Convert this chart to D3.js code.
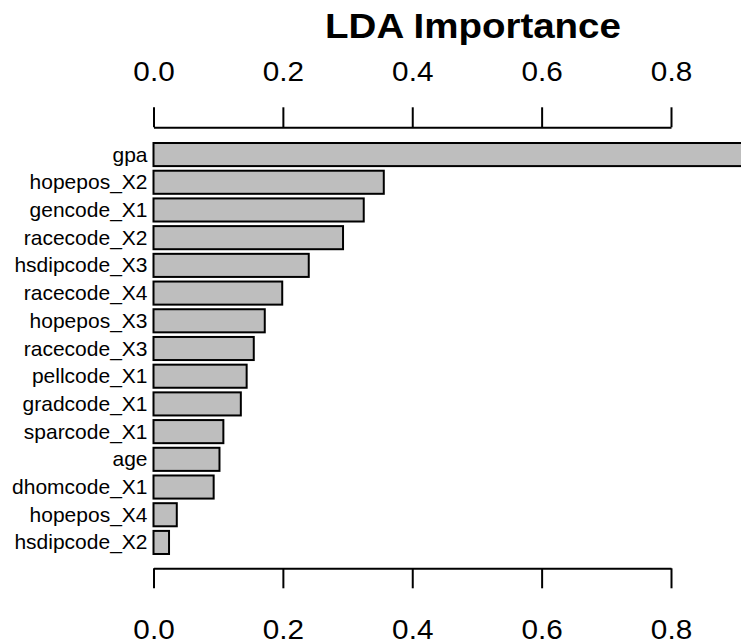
<!DOCTYPE html>
<html>
<head>
<meta charset="utf-8">
<script src="https://cdn.jsdelivr.net/npm/d3@7"></script>
<style>
    html, body { margin: 0; padding: 0; background: #fff; }
    svg { display: block; font-family: 'Liberation Sans', Arial, sans-serif; }
</style>
</head>
<body>
<svg id="chart"></svg>
<script>
const variableNames = [
    'gpa', 'hopepos_X2', 'gencode_X1', 'racecode_X2', 'hsdipcode_X3',
    'racecode_X4', 'hopepos_X3', 'racecode_X3', 'pellcode_X1', 'gradcode_X1',
    'sparcode_X1', 'age', 'dhomcode_X1', 'hopepos_X4', 'hsdipcode_X2'
];
const importanceValues = [
    0.95, 0.356, 0.325, 0.293, 0.240,
    0.199, 0.172, 0.155, 0.144, 0.135,
    0.108, 0.102, 0.093, 0.036, 0.024
];
const tickValues = [0.0, 0.2, 0.4, 0.6, 0.8];
const chartTitle = 'LDA Importance';

const WIDTH = 741;
const HEIGHT = 644;
const X_START = 153.5;
const X_END = 671;          // position of the 0.8 tick
const TOP_AXIS_Y = 127.3;
const BOTTOM_AXIS_Y = 568.3;
const TICK_LENGTH = 20;
// the source picture is a little stretched sideways
const TEXT_STRETCH = 1.1;

const svg = d3.select('#chart')
    .attr('width', WIDTH)
    .attr('height', HEIGHT);

const x = d3.scaleLinear()
    .domain([0, 0.8])
    .range([X_START, X_END]);

const y = d3.scaleBand()
    .domain(variableNames)
    .range([140.7, 556.3])
    .paddingInner(1 / 6)
    .paddingOuter(1 / 12);

const rows = variableNames.map((name, i) => ({ name, value: importanceValues[i] }));

// title
svg.append('text')
    .attr('transform', `translate(473,38) scale(${TEXT_STRETCH},1)`)
    .attr('text-anchor', 'middle')
    .attr('font-size', 35)
    .attr('font-weight', 'bold')
    .text(chartTitle);

// bars
svg.append('g')
    .selectAll('rect')
    .data(rows)
    .join('rect')
    .attr('x', x(0))
    .attr('y', d => y(d.name))
    .attr('width', d => x(d.value) - x(0))
    .attr('height', y.bandwidth())
    .attr('fill', '#bebebe')
    .attr('stroke', '#000')
    .attr('stroke-width', 2);

// bar labels
svg.append('g')
    .selectAll('text')
    .data(rows)
    .join('text')
    .attr('transform', d => `translate(${x(0) - 6},${y(d.name) + y.bandwidth() / 2}) scale(1.05,1)`)
    .attr('dy', '0.35em')
    .attr('text-anchor', 'end')
    .attr('font-size', 20)
    .text(d => d.name);

function styleAxis(g) {
    g.attr('font-family', null).attr('font-size', 27);
    g.select('.domain').attr('stroke-width', 2);
    g.selectAll('.tick line').attr('stroke-width', 2);
    g.selectAll('.tick text')
        .attr('fill', '#000')
        .attr('transform', `scale(${TEXT_STRETCH},1)`);
}

// top axis
svg.append('g')
    .attr('transform', `translate(0,${TOP_AXIS_Y})`)
    .call(d3.axisTop(x)
        .tickValues(tickValues)
        .tickFormat(d3.format('.1f'))
        .tickSize(TICK_LENGTH)
        .tickSizeOuter(0)
        .tickPadding(26))
    .call(styleAxis);

// bottom axis
svg.append('g')
    .attr('transform', `translate(0,${BOTTOM_AXIS_Y})`)
    .call(d3.axisBottom(x)
        .tickValues(tickValues)
        .tickFormat(d3.format('.1f'))
        .tickSize(TICK_LENGTH)
        .tickSizeOuter(0)
        .tickPadding(32))
    .call(styleAxis);
</script>
</body>
</html>
